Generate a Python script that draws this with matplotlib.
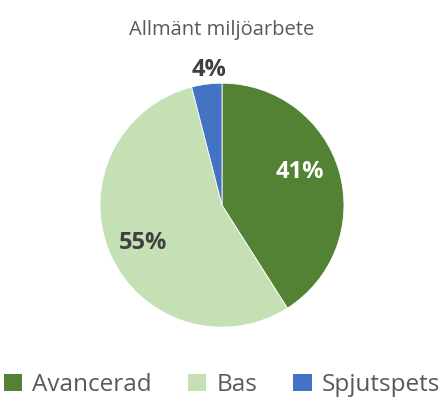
import matplotlib.pyplot as plt
from matplotlib.patches import Patch

plt.rcParams['font.family'] = ['Open Sans', 'DejaVu Sans']

categories = ['Avancerad', 'Bas', 'Spjutspets']
shares = [41, 55, 4]
colors = ['#548235', '#C5E0B4', '#4472C4']

# label placement (x, y in pie units) and text colour for each slice
label_pos = [(0.64, 0.27), (-0.65, -0.31), (-0.11, 1.11)]
label_colors = ['white', '#404040', '#404040']

fig = plt.figure(figsize=(4.44, 3.99), dpi=100)
ax = fig.add_axes([0.225, 0.18, 0.55, 0.6115])

ax.pie(shares, colors=colors, startangle=90, counterclock=False,
       radius=1.0, wedgeprops=dict(linewidth=0.6, edgecolor='white'))
ax.set_xlim(-1, 1)
ax.set_ylim(-1, 1)
ax.set_aspect('equal')

for val, (x, y), c in zip(shares, label_pos, label_colors):
    ax.text(x, y, f'{val}%', ha='center', va='center', fontsize=17,
            fontweight='bold', color=c)

fig.text(0.5, 0.925, 'Allmänt miljöarbete', ha='center', va='center',
         fontsize=14.5, color='#595959')

handles = [Patch(facecolor=c, edgecolor='none') for c in colors]
fig.legend(handles, categories, loc='center', bbox_to_anchor=(0.5, 0.035),
           ncol=3, frameon=False, fontsize=17.5, labelcolor='#595959',
           handlelength=0.75, handleheight=0.75, handletextpad=0.4,
           columnspacing=1.5)

plt.savefig('out.png', dpi=100)
